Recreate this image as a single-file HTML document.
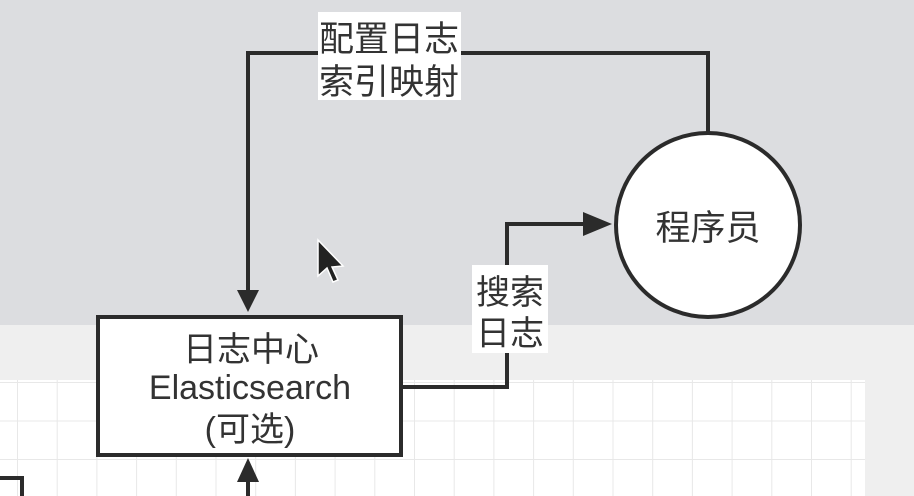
<!DOCTYPE html>
<html><head><meta charset="utf-8"><style>
html,body{margin:0;padding:0;width:914px;height:496px;overflow:hidden;background:#efefef}
</style></head><body>
<svg width="914" height="496" xmlns="http://www.w3.org/2000/svg" style="position:absolute;left:0;top:0">
<defs>
<pattern id="g" x="17" y="382" width="39.7" height="38.5" patternUnits="userSpaceOnUse">
<path d="M0 0H39.7M0 0V38.5" stroke="#e8e8e8" stroke-width="2" fill="none"/>
</pattern>
</defs>
<rect x="0" y="0" width="914" height="325" fill="#dcdde0"/>
<rect x="0" y="325" width="914" height="171" fill="#efefef"/>
<rect x="0" y="380" width="865" height="116" fill="#fff"/>
<rect x="0" y="380" width="865" height="116" fill="url(#g)"/>
<g stroke="#2b2b2b" stroke-width="4" fill="none">
<path d="M248 290V53H708V133"/>
<path d="M401 387H507V224H585"/>
<path d="M248 496V480"/>
<path d="M0 478H22V496"/>
</g>
<polygon points="237,290 259,290 248,312" fill="#2b2b2b"/>
<polygon points="583,212 583,236 612,224" fill="#2b2b2b"/>
<polygon points="237,482 259,482 248,458" fill="#2b2b2b"/>
<circle cx="708" cy="225" r="92" fill="#fff" stroke="#2b2b2b" stroke-width="4"/>
<rect x="98" y="317" width="303" height="138" fill="#fff" stroke="#2b2b2b" stroke-width="4"/>
<rect x="318" y="12" width="143" height="88" fill="#fff"/>
<rect x="472" y="265" width="76" height="88" fill="#fff"/>
<g font-family="Liberation Sans, Noto Sans CJK SC, sans-serif" fill="#333" text-anchor="middle">
<text x="389" y="51" font-size="35">配置日志</text>
<text x="389" y="94" font-size="35">索引映射</text>
<text x="510" y="304" font-size="34">搜索</text>
<text x="510" y="345" font-size="34">日志</text>
<text x="708" y="240" font-size="35">程序员</text>
<text x="251" y="361" font-size="34">日志中心</text>
<text x="250" y="399" font-size="34">Elasticsearch</text>
<text x="250" y="441" font-size="34">(可选)</text>
</g>
<path d="M318 240V276L327 268L333 282L338 280L332 267L343 266Z" fill="#222" stroke="#fff" stroke-width="1.5"/>
</svg>
</body></html>
